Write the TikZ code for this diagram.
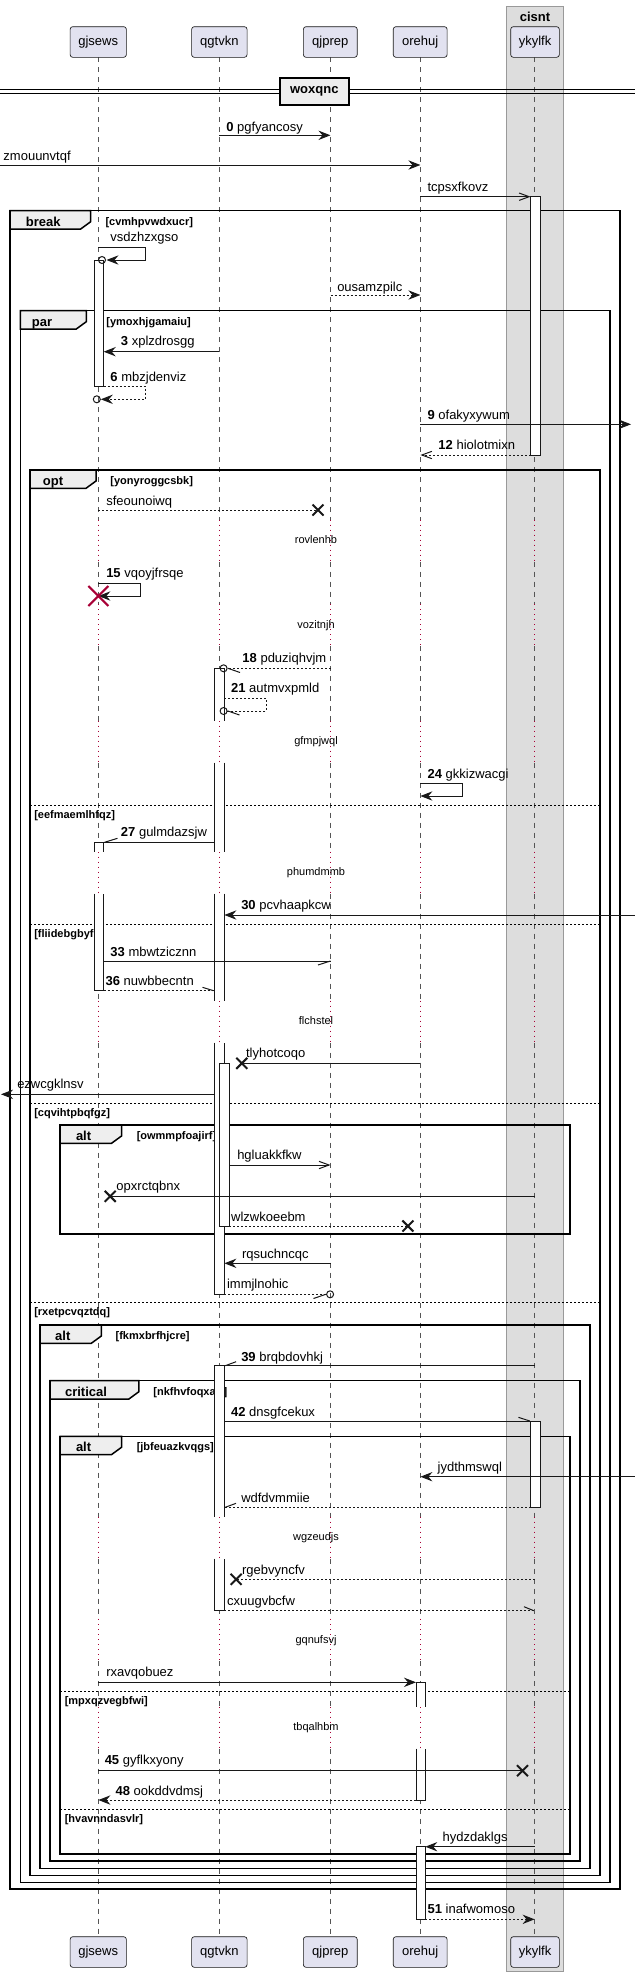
\documentclass[tikz,border=0pt]{standalone}
\usepackage{fontspec}
\setmainfont{Liberation Sans}
\usetikzlibrary{arrows.meta}
\definecolor{pfill}{HTML}{E2E2F0}
\definecolor{pdraw}{HTML}{181818}
\definecolor{boxfill}{HTML}{DDDDDD}
\definecolor{boxdraw}{HTML}{999999}
\definecolor{tabfill}{HTML}{EEEEEE}
\definecolor{delred}{HTML}{A80036}
\definecolor{lifegray}{HTML}{555555}
\newcommand\mfont{\fontsize{9.75}{11.7}\selectfont}
\newcommand\sfont{\fontsize{8.25}{9.9}\selectfont}
\newcommand\actTop[4]{\fill[white] (#1,#3) rectangle (#2,#4); \draw[actb] (#1,#4) -- (#1,#3) -- (#2,#3) -- (#2,#4);}
\newcommand\actMid[4]{\fill[white] (#1,#3) rectangle (#2,#4); \draw[actb] (#1,#3) -- (#1,#4) (#2,#3) -- (#2,#4);}
\newcommand\actEnd[4]{\fill[white] (#1,#3) rectangle (#2,#4); \draw[actb] (#1,#3) -- (#1,#4) -- (#2,#4) -- (#2,#3);}
\newcommand\ftab[7]{%
 \draw[tabst] (#1,#2) -- (#3,#2) -- (#3,#2+11) -- (#3-10,#2+18.3) -- (#1,#2+18.3) -- cycle;
 \node[tabl] at (#4,#2+15.5) {#5};
 \node[cnd] at (#6,#2+14.5) {#7};}
\begin{document}
\begin{tikzpicture}[x=0.75pt,y=-0.75pt,
 part/.style={draw=pdraw, fill=pfill, line width=0.5pt, rounded corners=2pt, inner sep=0pt, minimum height=23pt, font=\mfont},
 life/.style={draw=lifegray, line width=0.5pt, dash pattern=on 3.75pt off 3.75pt},
 dly/.style={draw=delred, line width=0.75pt, dash pattern=on 0.75pt off 3pt},
 frm/.style={draw=black, line width=1.125pt},
 tabst/.style={draw=black, fill=tabfill, line width=1.125pt},
 sep/.style={draw=black, line width=0.75pt, dash pattern=on 1.5pt off 1.5pt},
 actb/.style={draw=pdraw, line width=0.75pt},
 msg/.style={draw=pdraw, line width=0.75pt},
 dmsg/.style={msg, dash pattern=on 1.5pt off 1.5pt},
 fh/.style={-{Stealth[length=9pt,width=7pt,inset=3pt]}},
 oh/.style={-{Straight Barb[length=7.5pt,width=5.5pt]}},
 lbl/.style={anchor=base west, inner sep=0pt, font=\mfont},
 cnd/.style={anchor=base west, inner sep=0pt, font=\sfont\bfseries},
 tabl/.style={anchor=base, inner sep=0pt, font=\mfont\bfseries},
 dtxt/.style={anchor=base, inner sep=0pt, font=\sfont},
 xm/.pic={\draw[line width=1.5pt, draw=pdraw] (-5.5,-5.5)--(5.5,5.5) (-5.5,5.5)--(5.5,-5.5);},
 xred/.pic={\draw[line width=1.5pt, draw=delred] (-10,-10)--(10,10) (-10,10)--(10,-10);},
]
\useasboundingbox (0,0) rectangle (635,1977);
% box
\filldraw[fill=boxfill, draw=boxdraw, line width=0.75pt] (506.7,6) rectangle (563.4,1971.7);
\node[font=\mfont\bfseries, inner sep=0pt] (cisnt) at (535,16.5) {cisnt};
% lifelines
\foreach \x in {98.4,219.1,330.5,420.4,534.6}{
 \foreach \a/\b in {57.3/519.7, 561.7/604, 646/720.7, 762.7/851.7, 893.7/1000.7, 1042.7/1516.7, 1558.7/1619, 1661/1706.7, 1748.7/1936.7}
  \draw[life] (\x,\a) -- (\x,\b);
 \foreach \a/\b in {519.7/561.7, 604/646, 720.7/762.7, 851.7/893.7, 1000.7/1042.7, 1516.7/1558.7, 1619/1661, 1706.7/1748.7}
  \draw[dly] (\x,\a) -- (\x,\b);
}
% participants
\node[part, minimum width=42.2pt] (pA) at (98.25,42) {gjsews};
\node[part, minimum width=41.6pt] (pB) at (219.35,42) {qgtvkn};
\node[part, minimum width=40.4pt] (pC) at (330.3,42) {qjprep};
\node[part, minimum width=40.4pt] (pD) at (420.2,42) {orehuj};
\node[part, minimum width=36.5pt] (pE) at (535,42) {ykylfk};
\node[part, minimum width=42.2pt] (qA) at (98.25,1952) {gjsews};
\node[part, minimum width=41.6pt] (qB) at (219.35,1952) {qgtvkn};
\node[part, minimum width=40.4pt] (qC) at (330.3,1952) {qjprep};
\node[part, minimum width=40.4pt] (qD) at (420.2,1952) {orehuj};
\node[part, minimum width=36.5pt] (qE) at (535,1952) {ykylfk};
% divider
\draw[line width=0.75pt] (0,89.3) -- (635,89.3) (0,93.3) -- (635,93.3);
\node[draw, fill=tabfill, line width=1.5pt, minimum width=52.2pt, minimum height=20.5pt, inner sep=0pt, font=\mfont\bfseries] (div) at (314.3,91.3) {woxqnc};
% frames
\draw[frm] (10,210.7) rectangle (620,1889);
\ftab{10}{210.7}{90.7}{43.3}{break}{105.3}{[cvmhpvwdxucr]}
\draw[frm] (20.3,310.7) rectangle (610,1882.7);
\ftab{20.3}{310.7}{86.3}{42}{par}{106.1}{[ymoxhjgamaiu]}
\draw[frm] (30,470) rectangle (600,1875.7);
\ftab{30}{470}{96}{53}{opt}{110.2}{[yonyroggcsbk]}
\draw[sep] (30,805.3) -- (600,805.3);
\node[cnd] at (34,818.3) {[eefmaemlhfqz]};
\draw[sep] (30,924) -- (600,924);
\node[cnd] at (34,937) {[fliidebgbyfr]};
\draw[sep] (30,1103.3) -- (600,1103.3);
\node[cnd] at (34,1116.3) {[cqvihtpbqfgz]};
\draw[sep] (30,1302.7) -- (600,1302.7);
\node[cnd] at (34,1315.7) {[rxetpcvqztdq]};
\draw[frm] (60,1125) rectangle (570,1234);
\ftab{60}{1125}{121.5}{83.6}{alt}{136.5}{[owmmpfoajirf]}
\draw[frm] (40,1325) rectangle (590,1868.3);
\ftab{40}{1325}{101.3}{62.8}{alt}{115.4}{[fkmxbrfhjcre]}
\draw[frm] (50,1380.7) rectangle (580,1861);
\ftab{50}{1380.7}{138.9}{86}{critical}{153.1}{[nkfhvfoqxatr]}
\draw[frm] (60,1436.3) rectangle (570,1854);
\ftab{60}{1436.3}{121.5}{83.6}{alt}{136.5}{[jbfeuazkvqgs]}
\draw[sep] (60,1691.3) -- (570,1691.3);
\node[cnd] at (64.5,1704.3) {[mpxqzvegbfwi]};
\draw[sep] (60,1809.3) -- (570,1809.3);
\node[cnd] at (64.5,1822.3) {[hvavnndasvlr]};
% activations
\filldraw[actb, fill=white] (530.6,196.7) rectangle (540.7,455);
\filldraw[actb, fill=white] (94,260) rectangle (103.7,386.7);
\actTop{214.3}{224.4}{668.3}{720.7}
\actMid{214.3}{224.4}{762.7}{851.7}
\actMid{214.3}{224.4}{893.7}{1000.7}
\actEnd{214.3}{224.4}{1042.7}{1294.3}
\actTop{94}{103.7}{842.3}{851.7}
\actEnd{94}{103.7}{893.7}{990.7}
\filldraw[actb, fill=white] (219.1,1063.3) rectangle (229.2,1226);
\actTop{214.3}{224.4}{1365.7}{1516.7}
\actEnd{214.3}{224.4}{1558.7}{1610.7}
\filldraw[actb, fill=white] (530.6,1421) rectangle (540.7,1507.3);
\actTop{416}{425.3}{1682.3}{1706.7}
\actEnd{416}{425.3}{1748.7}{1800}
\filldraw[actb, fill=white] (416,1846.7) rectangle (425.3,1919.3);
% messages
\draw[msg,fh] (219.1,135.3) -- (330.5,135.3);
\node[lbl] at (226,131.5) {\textbf{0} pgfyancosy};
\draw[msg,fh] (0,165) -- (420.4,165);
\node[lbl] at (3.2,160.5) {zmouunvtqf};
\draw[msg,oh] (420.4,196.7) -- (530.6,196.7);
\node[lbl] at (427.3,191.8) {tcpsxfkovz};
\draw[msg,fh] (98.4,247.7) -- (145,247.7) -- (145,260) -- (106.5,260);
\draw[msg] (102,260) circle[radius=3.5];
\node[lbl] at (110.2,241.2) {vsdzhzxgso};
\draw[dmsg,fh] (330.5,295) -- (420.4,295);
\node[lbl] at (337,291.2) {ousamzpilc};
\draw[msg,fh] (219.1,351.7) -- (103.7,351.7);
\node[lbl] at (120.7,345.2) {\textbf{3} xplzdrosgg};
\draw[dmsg,fh] (103.7,386) -- (145,386) -- (145,399.3) -- (100.8,399.3);
\draw[msg] (96.8,399.3) circle[radius=3.5];
\node[lbl] at (110.2,381.2) {\textbf{6} mbzjdenviz};
\draw[msg,fh] (420.4,424.3) -- (631,424.3);
\node[lbl] at (427.3,419.5) {\textbf{9} ofakyxywum};
\draw[dmsg,oh] (530.6,455) -- (420.4,455);
\node[lbl] at (438.2,449.5) {\textbf{12} hiolotmixn};
\draw[dmsg] (98.4,510) -- (318,510);
\pic at (318,510) {xm};
\node[lbl] at (106,505.8) {sfeounoiwq};
\draw[msg,fh] (98.4,583.3) -- (140.5,583.3) -- (140.5,596) -- (98.4,596);
\pic at (98.4,596) {xred};
\node[lbl] at (106,577.8) {\textbf{15} vqoyjfrsqe};
\draw[dmsg] (330.5,668.3) -- (227.1,668.3);
\draw[msg] (223.6,668.3) circle[radius=3.5];
\draw[msg] (228,668.3) -- (240,672.5);
\node[lbl] at (242.2,662.8) {\textbf{18} pduziqhvjm};
\draw[dmsg] (224.4,698.3) -- (266.5,698.3) -- (266.5,711) -- (227.1,711);
\draw[msg] (223.6,711) circle[radius=3.5];
\draw[msg] (228,711) -- (239.5,715);
\node[lbl] at (230.9,692.8) {\textbf{21} autmvxpmld};
\draw[msg,fh] (420.4,783.3) -- (462.5,783.3) -- (462.5,796) -- (420.4,796);
\node[lbl] at (427.3,778.5) {\textbf{24} gkkizwacgi};
\draw[msg] (214.3,842.3) -- (103.7,842.3);
\draw[msg] (104.5,842.3) -- (117.5,838.3);
\node[lbl] at (120.7,836.8) {\textbf{27} gulmdazsjw};
\draw[msg,fh] (635,915) -- (224.4,915);
\node[lbl] at (241,909.5) {\textbf{30} pcvhaapkcw};
\draw[msg] (103.7,961) -- (330.5,961);
\draw[msg] (330.5,961) -- (318,965);
\node[lbl] at (110.2,956.2) {\textbf{33} mbwtzicznn};
\draw[dmsg] (103.7,990.7) -- (214.3,990.7);
\draw[msg] (213.5,990.7) -- (202.5,987.3);
\node[lbl] at (105.3,985.2) {\textbf{36} nuwbbecntn};
\draw[msg] (420.4,1063.3) -- (241.8,1063.3);
\pic at (241.8,1063.3) {xm};
\node[lbl] at (245.8,1057.8) {tlyhotcoqo};
\draw[msg,fh] (214.3,1094.3) -- (1,1094.3);
\node[lbl] at (17,1088.5) {ezwcgklnsv};
\draw[msg,oh] (229.2,1165) -- (330.5,1165);
\node[lbl] at (237,1159.2) {hgluakkfkw};
\draw[msg] (534.6,1196.3) -- (110.2,1196.3);
\pic at (110.2,1196.3) {xm};
\node[lbl] at (116.2,1190.8) {opxrctqbnx};
\draw[dmsg] (229.2,1226) -- (407.9,1226);
\pic at (407.9,1226) {xm};
\node[lbl] at (230.9,1221.2) {wlzwkoeebm};
\draw[msg,fh] (330.5,1263.3) -- (224.4,1263.3);
\node[lbl] at (241.8,1258.5) {rqsuchncqc};
\draw[dmsg] (224.4,1294.3) -- (326.6,1294.3);
\draw[msg] (330.1,1294.3) circle[radius=3.5];
\draw[msg] (325.8,1294.3) -- (313.5,1298.5);
\node[lbl] at (226.8,1288.5) {immjlnohic};
\draw[msg] (534.6,1365.7) -- (224.4,1365.7);
\draw[msg] (225.2,1365.7) -- (236.1,1361.7);
\node[lbl] at (241,1361.2) {\textbf{39} brqbdovhkj};
\draw[msg] (224.4,1421) -- (530.6,1421);
\draw[msg] (529.8,1421) -- (518.4,1417.3);
\node[lbl] at (230.9,1416.8) {\textbf{42} dnsgfcekux};
\draw[msg,fh] (635,1476.7) -- (420.4,1476.7);
\node[lbl] at (437.4,1471.2) {jydthmswql};
\draw[dmsg] (530.6,1507.3) -- (224.4,1507.3);
\draw[msg] (225.2,1507.3) -- (236,1503.3);
\node[lbl] at (241,1502.5) {wdfdvmmiie};
\draw[dmsg] (534.6,1579.3) -- (236.1,1579.3);
\pic at (236.1,1579.3) {xm};
\node[lbl] at (241.8,1574.5) {rgebvyncfv};
\draw[dmsg] (224.4,1610.7) -- (534.6,1610.7);
\draw[msg] (533.8,1610.7) -- (524,1606.7);
\node[lbl] at (226.8,1605.2) {cxuugvbcfw};
\draw[msg,fh] (98.4,1682.3) -- (416,1682.3);
\node[lbl] at (106,1676.8) {rxavqobuez};
\draw[msg] (98.4,1770.7) -- (522.5,1770.7);
\pic at (522.5,1770.7) {xm};
\node[lbl] at (104.5,1764.5) {\textbf{45} gyflkxyony};
\draw[dmsg,fh] (416,1800) -- (98.4,1800);
\node[lbl] at (115.4,1795.2) {\textbf{48} ookddvdmsj};
\draw[msg,fh] (534.6,1846.7) -- (425.3,1846.7);
\node[lbl] at (442.3,1841.8) {hydzdaklgs};
\draw[dmsg,fh] (425.3,1919.3) -- (534.6,1919.3);
\node[lbl] at (427.3,1913.5) {\textbf{51} inafwomoso};
% delay texts
\node[dtxt] (d1) at (316,543.7) {rovlenhb};
\node[dtxt] (d2) at (316,628) {vozitnjh};
\node[dtxt] (d3) at (316,744.7) {gfmpjwql};
\node[dtxt] (d4) at (316,875.7) {phumdmmb};
\node[dtxt] (d5) at (316,1024.7) {flchstel};
\node[dtxt] (d6) at (316,1540.7) {wgzeudjs};
\node[dtxt] (d7) at (316,1643) {gqnufsvj};
\node[dtxt] (d8) at (316,1730.7) {tbqalhbm};
\end{tikzpicture}
\end{document}
